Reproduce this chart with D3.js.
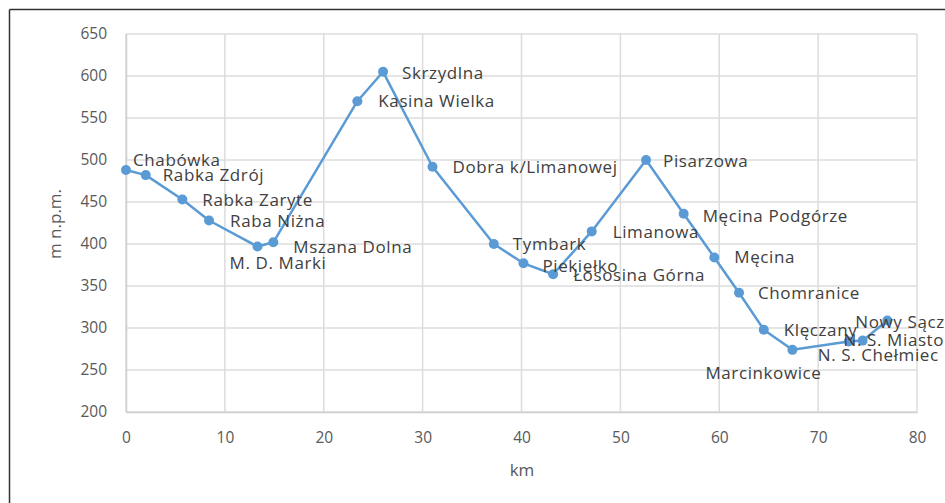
<!DOCTYPE html>
<html>
<head>
<meta charset="utf-8">
<script src="https://cdn.jsdelivr.net/npm/d3@7"></script>
<style>
  body { margin: 0; background: #fff; overflow: hidden; }
  svg { display: block; font-family: "Open Sans", sans-serif; }
</style>
</head>
<body>
<div id="chart"></div>
<script>
// dane: km trasy, wysokość n.p.m., nazwy miejscowości
var places = ["Chabówka", "Rabka Zdrój", "Rabka Zaryte", "Raba Niżna", "M. D. Marki", "Mszana Dolna",
  "Kasina Wielka", "Skrzydlna", "Dobra k/Limanowej", "Tymbark", "Piekiełko", "Łososina Górna",
  "Limanowa", "Pisarzowa", "Męcina Podgórze", "Męcina", "Chomranice", "Klęczany", "Marcinkowice",
  "N. S. Chełmiec", "N. S. Miasto", "Nowy Sącz"];
var km = [0, 2.0, 5.7, 8.4, 13.3, 14.9, 23.4, 26.0, 31.0, 37.2, 40.2, 43.2,
  47.1, 52.6, 56.4, 59.5, 62.0, 64.5, 67.4, 73.1, 74.5, 77.0];
var elevation = [488, 482, 453, 428, 397, 402, 570, 605, 492, 400, 377, 364,
  415, 500, 436, 384, 342, 298, 274, 284, 285, 309];
var xTicks = [0, 10, 20, 30, 40, 50, 60, 70, 80];
var yTicks = [200, 250, 300, 350, 400, 450, 500, 550, 600, 650];

// przesunięcia etykiet (px) względem punktu
var labelDx = [7, 17, 20, 21, -28, 20, 21, 19, 20, 19, 19, 20, 21, 17, 19, 20, 19, 20, -87, -31, -19, -32];
var labelDy = [-10, 0, 1, 1, 17, 5, 0, 1, 0, 0, 3, 1, 1, 1, 2, 0, 0, 0, 23, 14, -1, 2];

var width = 945, height = 503;
var svg = d3.select("#chart").append("svg")
    .attr("width", width)
    .attr("height", height);

var xScale = d3.scaleLinear().domain([0, 80]).range([126, 917]);
var yScale = d3.scaleLinear().domain([200, 650]).range([412, 34]);

// ramka
svg.append("line").attr("x1", 9.5).attr("x2", width).attr("y1", 9.5).attr("y2", 9.5)
   .style("stroke", "#333").style("stroke-width", 1.5);
svg.append("line").attr("x1", 9.5).attr("x2", 9.5).attr("y1", 9.5).attr("y2", height)
   .style("stroke", "#333").style("stroke-width", 1.5);

// siatka
svg.append("g").selectAll("line").data(yTicks).enter().append("line")
   .attr("x1", xScale(0)).attr("x2", xScale(80))
   .attr("y1", function(d){ return yScale(d); }).attr("y2", function(d){ return yScale(d); })
   .style("stroke", "#dcdcdc").style("stroke-width", 1.5);
svg.append("g").selectAll("line").data(xTicks).enter().append("line")
   .attr("y1", yScale(200)).attr("y2", yScale(650))
   .attr("x1", function(d){ return xScale(d); }).attr("x2", function(d){ return xScale(d); })
   .style("stroke", "#dcdcdc").style("stroke-width", 1.5);

// osie
var xAxis = d3.axisBottom(xScale).tickValues(xTicks).tickSize(0).tickPadding(20);
var yAxis = d3.axisLeft(yScale).tickValues(yTicks).tickSize(0).tickPadding(19);
var gx = svg.append("g").attr("transform", "translate(0," + yScale(200) + ")").call(xAxis);
var gy = svg.append("g").attr("transform", "translate(" + xScale(0) + ",0)").call(yAxis);
[gx, gy].forEach(function(g){
  g.select(".domain").style("stroke", "#d0d0d0").style("stroke-width", 1.5);
  g.selectAll("text").style("font-size", "15.5px").style("fill", "#595959")
   .style("font-family", "'Open Sans', sans-serif");
});

svg.append("text").attr("x", 522).attr("y", 476).attr("text-anchor", "middle")
   .style("font-size", "17px").style("fill", "#595959").text("km");
svg.append("text").attr("transform", "translate(61,224) rotate(-90)").attr("text-anchor", "middle")
   .style("font-size", "17px").style("fill", "#595959").text("m n.p.m.");

// linia profilu
var line = d3.line()
   .x(function(d, i){ return xScale(km[i]); })
   .y(function(d){ return yScale(d); });
svg.append("path").datum(elevation)
   .attr("d", line)
   .style("fill", "none").style("stroke", "#5b9bd5").style("stroke-width", 2.5)
   .style("stroke-linejoin", "round");
svg.append("g").selectAll("circle").data(elevation).enter().append("circle")
   .attr("cx", function(d, i){ return xScale(km[i]); })
   .attr("cy", function(d){ return yScale(d); })
   .attr("r", 5)
   .style("fill", "#5b9bd5");

// etykiety
svg.append("g").selectAll("text").data(places).enter().append("text")
   .attr("x", function(d, i){ return xScale(km[i]) + labelDx[i]; })
   .attr("y", function(d, i){ return yScale(elevation[i]) + labelDy[i]; })
   .attr("dy", "0.35em")
   .style("font-size", "17px").style("letter-spacing", "0.6px").style("fill", "#404040")
   .text(function(d){ return d; });
</script>
</body>
</html>
